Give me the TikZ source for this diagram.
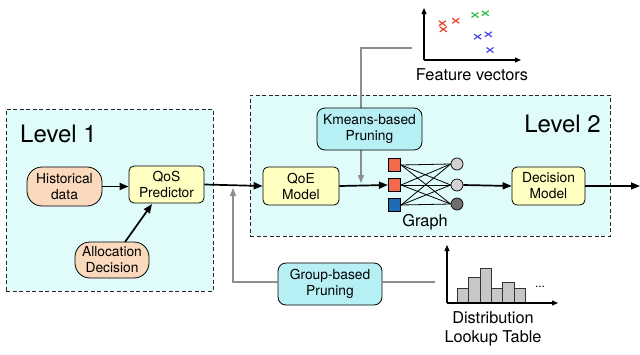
\documentclass[tikz,border=0pt]{standalone}
\usepackage{fontspec}
\setmainfont{TeX Gyre Heros}
\usetikzlibrary{arrows.meta}
\definecolor{lvlcol}{HTML}{DFFBFA}
\definecolor{yel}{HTML}{FFFFC2}
\definecolor{peach}{HTML}{FAD9BC}
\definecolor{cyanbox}{HTML}{B6F0F5}
\definecolor{sqred}{HTML}{F2694E}
\definecolor{sqblue}{HTML}{1F6BB4}
\definecolor{cirl}{HTML}{D2D2D2}
\definecolor{cird}{HTML}{6E6E6E}
\definecolor{gline}{HTML}{8E8E8E}
\definecolor{xred}{HTML}{E8432F}
\definecolor{xgreen}{HTML}{2EC04A}
\definecolor{xblue}{HTML}{4B4BE0}
\begin{document}
\begin{tikzpicture}[x=1pt,y=-1pt,
  nodefont/.style={font=\fontsize{13.8}{16}\selectfont},
  lvl/.style={draw=black!85, dash pattern=on 4pt off 2.5pt, fill=lvlcol, line width=0.9pt},
  proc/.style={draw, rounded corners=5pt, fill=yel, nodefont, align=center, line width=0.8pt, inner sep=0pt},
  inp/.style={draw, rounded corners=15pt, fill=peach, nodefont, align=center, line width=0.8pt, inner sep=0pt},
  prune/.style={draw, rounded corners=8pt, fill=cyanbox, nodefont, align=center, line width=0.8pt, inner sep=0pt},
  arr/.style={-{Triangle[length=9pt,width=7pt]}, line width=1.7pt},
  garr/.style={-{Triangle[length=8pt,width=6pt]}, line width=1.5pt, draw=gline},
  gline/.style={line width=1.5pt, draw=gline},
  axis/.style={-{Triangle[length=6pt,width=5pt]}, line width=1.1pt},
  sq/.style={draw, line width=0.7pt, minimum size=12.5pt, inner sep=0pt},
  cir/.style={draw, circle, line width=0.7pt, minimum size=12pt, inner sep=0pt},
  edge/.style={line width=0.8pt},
  bar/.style={draw=black!80, fill=black!22, line width=0.8pt},
  lbl/.style={font=\fontsize{16.3}{19}\selectfont, align=center, inner sep=0pt},
  lvltxt/.style={font=\fontsize{24}{28}\selectfont, inner sep=0pt},
  xmark/.style={line width=1.2pt}
]
\useasboundingbox (0,0) rectangle (640,354);
% level boxes
\node[lvl, minimum width=207pt, minimum height=182pt, inner sep=0pt] (L1) at (109.5,200) {};
\node[lvl, minimum width=360pt, minimum height=141pt, inner sep=0pt] (L2) at (430,165.5) {};
\node[lvltxt, anchor=west] (L1t) at (20,134) {Level 1};
\node[lvltxt, anchor=east] (L2t) at (601,124) {Level 2};

% level 1 nodes
\node[inp, minimum width=75pt, minimum height=39pt] (hist) at (64.5,186.5) {Historical\\data};
\node[proc, minimum width=75pt, minimum height=37pt] (qos) at (166.5,184.5) {QoS\\Predictor};
\node[inp, minimum width=74pt, minimum height=36pt] (alloc) at (112,260) {Allocation\\Decision};
\draw[arr] (hist.east) -- (qos.west |- hist.east);
\coordinate (allocn) at (125,242);
\coordinate (qosb) at (152,204);
\draw[arr] (allocn) -- (qosb);

% kmeans gray line (drawn before the Kmeans box, so the box covers it)
\coordinate (fvL) at (412,48);
\coordinate (kmc) at (361,48);
\coordinate (kmend) at (361,183);
\draw[garr] (fvL) -- (kmc) -- (kmend);

% level 2 nodes
\node[proc, minimum width=76pt, minimum height=38pt] (qoe) at (301,186) {QoE\\Model};
\node[prune, minimum width=105pt, minimum height=42pt] (km) at (369.5,129) {Kmeans-based\\Pruning};
\node[proc, minimum width=73pt, minimum height=38pt] (dec) at (548.5,186) {Decision\\Model};

% graph
\node[sq, fill=sqred] (s1) at (394.5,165) {};
\node[sq, fill=sqred] (s2) at (394.5,185) {};
\node[sq, fill=sqblue] (s3) at (394.5,205) {};
\node[cir, fill=cirl] (c1) at (457,164) {};
\node[cir, fill=cirl] (c2) at (457,185) {};
\node[cir, fill=cird] (c3) at (457,204) {};
\foreach \s in {s1,s2,s3}{\foreach \c in {c1,c2,c3}{\draw[edge] (\s.east) -- (\c.west);}}
\node[lbl] (glbl) at (425,222) {Graph};

% main arrows
\draw[arr] (qos.east) -- (qoe.west);
\draw[arr] (qoe.east) -- (s2.west);
\draw[arr] (c2.east) -- (dec.west);
\coordinate (outR) at (640,186);
\draw[arr] (dec.east) -- (outR);

% feature vectors plot
\coordinate (fvO) at (424,60);
\coordinate (fvY) at (424,8);
\coordinate (fvX) at (521,60);
\draw[axis] (fvO) -- (fvY);
\draw[axis] (fvO) -- (fvX);
\foreach \x/\y/\c in {442.3/23.3/xred, 443.3/29.3/xred, 455.7/20.7/xred, 475/15/xgreen, 485.3/13.3/xgreen, 477.7/36.7/xblue, 488.3/34.3/xblue, 490/50/xblue}{
  \draw[xmark, \c] (\x-3.5,\y-2.5) -- (\x+3.5,\y+2.5) (\x-3.5,\y+2.5) -- (\x+3.5,\y-2.5);
}
\node[lbl] (fvt) at (472,75) {Feature vectors};

% distribution lookup
\coordinate (dO) at (447,303);
\coordinate (dY) at (447,245);
\coordinate (dX) at (558,303);
\foreach \a/\b/\t in {457.3/468.3/288.3, 468.3/480/277.7, 480/491.7/268.3, 491.7/502.7/288.3, 502.7/514/282.3, 514/525/288.3}{
  \draw[bar] (\a,303) rectangle (\b,\t);
}
\draw[axis] (dO) -- (dY);
\draw[axis] (dO) -- (dX);
\node[font=\fontsize{12}{14}\selectfont, inner sep=0pt] (dots) at (540,287) {...};
\node[lbl] (dlt) at (493,329) {Distribution\\Lookup Table};

% group-based pruning
\node[prune, minimum width=104pt, minimum height=42pt] (gb) at (330,284) {Group-based\\Pruning};
\coordinate (gbR) at (435,282);
\coordinate (gbUp) at (233,188);
\draw[gline] (gbR) -- (gb.east |- gbR);
\draw[garr] (gb.west |- gbR) -| (gbUp);
\end{tikzpicture}
\end{document}
